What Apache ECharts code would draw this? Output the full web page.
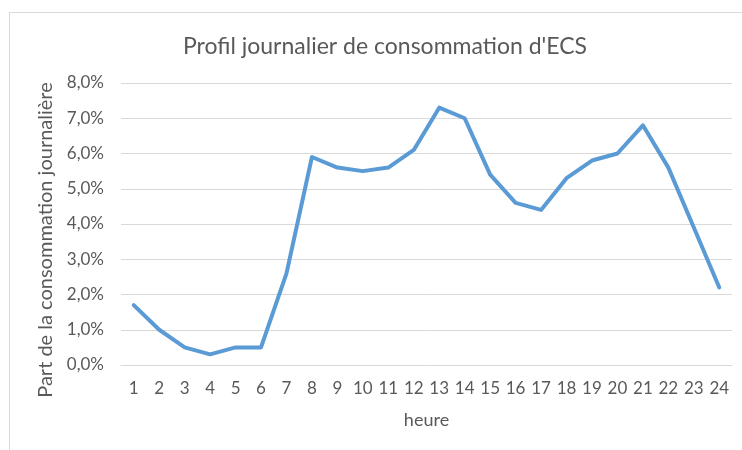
<!DOCTYPE html>
<html>
<head>
<meta charset="utf-8">
<script src="https://cdn.jsdelivr.net/npm/echarts@6/dist/echarts.min.js"></script>
<style>
html,body{margin:0;padding:0;background:#fff;}
#frame{position:absolute;left:9px;top:12px;width:760px;height:460px;border:1px solid #d9d9d9;box-sizing:border-box;}
#chart{position:absolute;left:0;top:0;width:742px;height:450px;}
</style>
</head>
<body>
<div id="frame"></div>
<div id="chart"></div>
<script>
const hours = ['1','2','3','4','5','6','7','8','9','10','11','12','13','14','15','16','17','18','19','20','21','22','23','24'];
const consumption = [1.7,1.0,0.5,0.3,0.5,0.5,2.6,5.9,5.6,5.5,5.6,6.1,7.3,7.0,5.4,4.6,4.4,5.3,5.8,6.0,6.8,5.6,3.9,2.2];
const titleText = "Profil journalier de consommation d'ECS";
const xName = 'heure';
const yName = 'Part de la consommation journalière';

const chart = echarts.init(document.getElementById('chart'), null, {renderer:'canvas'});
const font = 'Lato, "Open Sans", sans-serif';
chart.setOption({
  animation:false,
  backgroundColor:'transparent',
  title:{text:titleText,left:380,top:30,textAlign:'center',
    textStyle:{fontFamily:font,fontSize:23,fontWeight:'normal',color:'#595959'}},
  grid:{left:121,right:10,top:83,bottom:85,containLabel:false},
  xAxis:{type:'category',data:hours,boundaryGap:true,
    name:xName,nameLocation:'middle',nameGap:46,
    nameTextStyle:{fontFamily:font,fontSize:18,color:'#595959'},
    axisLine:{show:true,lineStyle:{color:'#d9d9d9',width:1}},
    axisTick:{show:false},
    axisLabel:{fontFamily:font,fontSize:17,color:'#595959',margin:15,interval:0}},
  yAxis:{type:'value',min:0,max:8,interval:1,
    name:yName,nameLocation:'middle',nameGap:63,nameRotate:90,
    nameTextStyle:{fontFamily:font,fontSize:20,color:'#595959',padding:[0,32,0,0]},
    axisLine:{show:false},axisTick:{show:false},
    splitLine:{lineStyle:{color:'#d9d9d9',width:1}},
    axisLabel:{fontFamily:font,fontSize:17,color:'#595959',margin:17,
      formatter:v=>v.toFixed(1).replace('.',',')+'%'}},
  series:[{type:'line',data:consumption,symbol:'none',
    lineStyle:{color:'#5b9bd5',width:4,cap:'round',join:'round'}}]
});
</script>
</body>
</html>
